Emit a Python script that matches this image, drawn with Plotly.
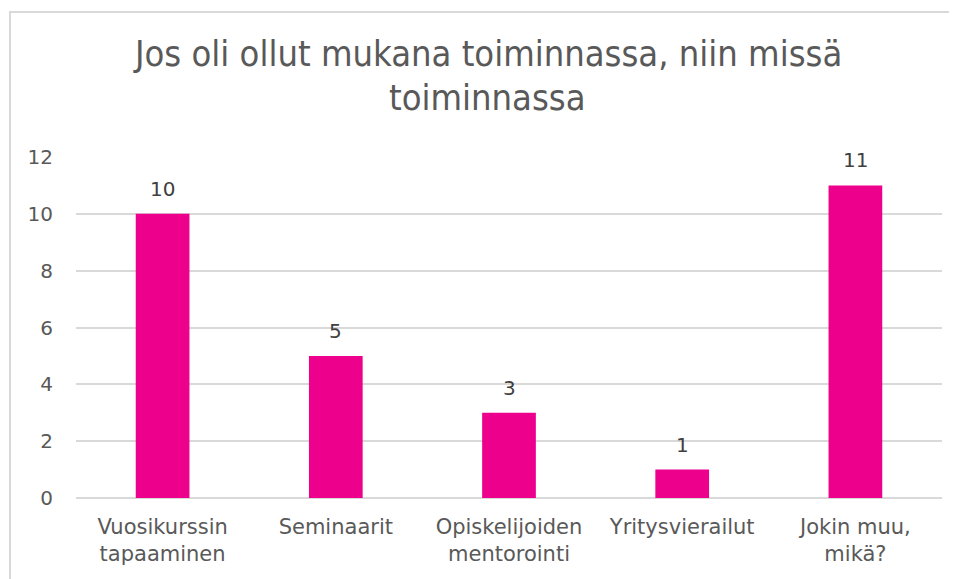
import plotly.graph_objects as go

categories = ["Vuosikurssin<br>tapaaminen", "Seminaarit", "Opiskelijoiden<br>mentorointi",
              "Yritysvierailut", "Jokin muu,<br>mikä?"]
values = [10, 5, 3, 1, 11]
y_ticks = [0, 2, 4, 6, 8, 10, 12]

title_lines = ["Jos oli ollut mukana toiminnassa, niin missä", "toiminnassa"]

fig = go.Figure()

fig.add_trace(go.Bar(
    x=categories,
    y=values,
    width=0.31,
    marker=dict(color="#EC008C", line=dict(width=0)),
    showlegend=False
))

# étiquettes de valeur au-dessus des barres
for cat, val in zip(categories, values):
    fig.add_annotation(
        x=cat, y=val, xref="x", yref="y",
        text=str(val), showarrow=False,
        yanchor="bottom", yshift=11,
        font=dict(size=20, color="#404040", family="DejaVu Sans")
    )

# cadre gris (le graphique est rogné à droite et en bas)
fig.add_shape(type="rect", xref="paper", yref="paper",
              x0=-0.0762, x1=1.2, y0=-0.5, y1=1.425,
              line=dict(color="#D9D9D9", width=2), fillcolor="rgba(0,0,0,0)", layer="below")

# titre sur deux lignes
for line, ypos in zip(title_lines, [1.3695, 1.2405]):
    fig.add_annotation(
        text=line, xref="paper", yref="paper",
        x=0.4746, y=ypos, yanchor="top",
        showarrow=False, align="center",
        font=dict(size=36, color="#595959", family="DejaVu Sans Condensed")
    )

fig.update_layout(
    width=949, height=571,
    margin=dict(l=68, r=15, t=149, b=81),
    paper_bgcolor="white",
    plot_bgcolor="white",
    font=dict(family="DejaVu Sans", color="#595959", size=20),
    xaxis=dict(showgrid=False, showline=False, ticks="", ticklabelstandoff=14,
               tickfont=dict(size=21, color="#595959")),
    yaxis=dict(range=[0, 12], tickvals=y_ticks, showgrid=True, gridcolor="#D9D9D9", gridwidth=1.5,
               zeroline=True, zerolinecolor="#D9D9D9", zerolinewidth=1.5, showline=False,
               ticks="", ticklabelstandoff=22, tickfont=dict(size=20, color="#595959")),
)

fig.write_html("out.html")
